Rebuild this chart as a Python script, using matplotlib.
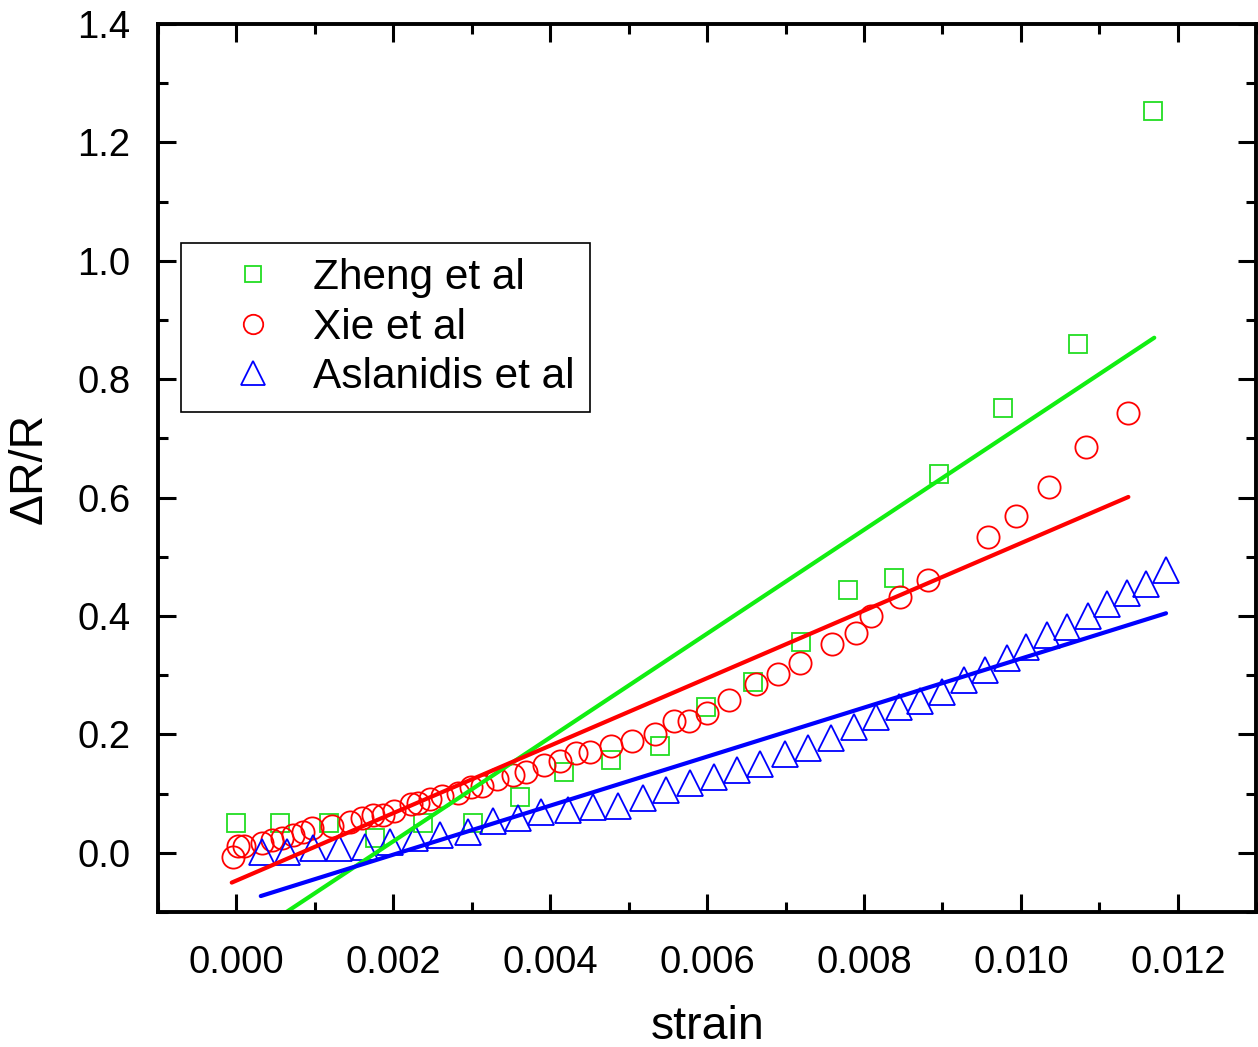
import matplotlib.pyplot as plt
import numpy as np
from matplotlib.ticker import MultipleLocator, FormatStrFormatter

plt.rcParams['font.family'] = ['Liberation Sans', 'DejaVu Sans']

# Zheng et al
zheng_strain = [0.0, 0.00055, 0.00118, 0.00177, 0.00238, 0.00301, 0.00362, 0.00417,
                0.00478, 0.0054, 0.00599, 0.00659, 0.0072, 0.0078, 0.00838, 0.00896,
                0.00977, 0.01073, 0.01169]
zheng_dr = [0.051, 0.051, 0.051, 0.025, 0.051, 0.051, 0.095, 0.137,
            0.157, 0.181, 0.247, 0.289, 0.356, 0.444, 0.465, 0.640,
            0.752, 0.860, 1.253]

# Xie et al
xie_strain = [-0.00005, 0.00002, 0.0001, 0.00033, 0.00045, 0.00058, 0.00072, 0.00085,
              0.00096, 0.00122, 0.00145, 0.0016, 0.00174, 0.00187, 0.00201, 0.00222,
              0.00232, 0.00247, 0.00262, 0.00283, 0.00299, 0.00313, 0.00332, 0.00353,
              0.00369, 0.00392, 0.00412, 0.00433, 0.00451, 0.00478, 0.00504, 0.00533,
              0.00558, 0.00577, 0.0060, 0.00628, 0.00662, 0.0069, 0.00719, 0.00759,
              0.0079, 0.00809, 0.00846, 0.00881, 0.00958, 0.00994, 0.01036, 0.01083,
              0.01136]
xie_dr = [-0.007, 0.012, 0.012, 0.017, 0.022, 0.025, 0.030, 0.035,
          0.041, 0.046, 0.052, 0.059, 0.063, 0.064, 0.071, 0.083,
          0.084, 0.091, 0.096, 0.101, 0.111, 0.113, 0.125, 0.132,
          0.137, 0.149, 0.155, 0.169, 0.171, 0.181, 0.189, 0.201,
          0.223, 0.223, 0.236, 0.258, 0.285, 0.302, 0.321, 0.353,
          0.372, 0.400, 0.432, 0.461, 0.534, 0.569, 0.618, 0.686,
          0.743]

# Aslanidis et al
asl_strain = [0.00032, 0.00065, 0.00097, 0.00131, 0.00164, 0.00196, 0.00228, 0.0026,
              0.00295, 0.00327, 0.00359, 0.00388, 0.00423, 0.00454, 0.00486, 0.00518,
              0.00547, 0.00578, 0.00609, 0.00638, 0.00668, 0.00699, 0.00728, 0.00758,
              0.00787, 0.00815, 0.00844, 0.00872, 0.0090, 0.00927, 0.00954, 0.00982,
              0.01006, 0.01033, 0.01059, 0.01085, 0.0111, 0.01135, 0.0116, 0.01185]
asl_dr = [0.002, 0.002, 0.008, 0.008, 0.010, 0.019, 0.025, 0.030,
          0.035, 0.054, 0.059, 0.068, 0.073, 0.078, 0.079, 0.093,
          0.106, 0.118, 0.128, 0.140, 0.150, 0.166, 0.177, 0.194,
          0.213, 0.230, 0.247, 0.257, 0.272, 0.292, 0.309, 0.329,
          0.348, 0.368, 0.382, 0.400, 0.421, 0.439, 0.454, 0.478]

# linear fits: (slope, intercept, x start, x end)
zheng_fit = (87.7, -0.156, 0.0, 0.0117)
xie_fit = (57.0, -0.047, -0.00006, 0.01137)
asl_fit = (41.4, -0.086, 0.00031, 0.01185)

fig = plt.figure(figsize=(12.58, 10.47), dpi=100)
ax = fig.add_axes([0.1256, 0.129, 0.873, 0.848])

ax.plot(zheng_strain, zheng_dr, 's', ms=13, mfc='none', mec='#22dd22', mew=1.3,
        label='Zheng et al')
ax.plot(xie_strain, xie_dr, 'o', ms=16, mfc='none', mec='red', mew=1.3,
        label='Xie et al')
ax.plot(asl_strain, asl_dr, '^', ms=19, mfc='none', mec='blue', mew=1.3,
        label='Aslanidis et al')

for (k, b, x0, x1), c in [(zheng_fit, '#11ee11'), (xie_fit, 'red'), (asl_fit, 'blue')]:
    xs = np.array([x0, x1])
    ax.plot(xs, k * xs + b, '-', color=c, lw=3, solid_capstyle='round')

ax.set_xlim(-0.001, 0.013)
ax.set_ylim(-0.1, 1.4)
ax.xaxis.set_major_locator(MultipleLocator(0.002))
ax.xaxis.set_minor_locator(MultipleLocator(0.001))
ax.yaxis.set_major_locator(MultipleLocator(0.2))
ax.yaxis.set_minor_locator(MultipleLocator(0.1))
ax.xaxis.set_major_formatter(FormatStrFormatter('%.3f'))
ax.yaxis.set_major_formatter(FormatStrFormatter('%.1f'))

ax.tick_params(which='both', direction='in', top=True, right=True, width=2.2,
               labelsize=27.5)
ax.tick_params(axis='x', pad=24)
ax.tick_params(axis='y', pad=20)
ax.tick_params(which='major', length=13)
ax.tick_params(which='minor', length=7)
for s in ax.spines.values():
    s.set_linewidth(2.8)

ax.set_xlabel('strain', fontsize=33.5, labelpad=17)
ax.set_ylabel('ΔR/R', fontsize=33.5, labelpad=18)

leg = ax.legend(loc='upper left', bbox_to_anchor=(0.021, 0.753), borderaxespad=0,
                fontsize=30.5, fancybox=False, framealpha=1, edgecolor='black',
                handletextpad=0.07, borderpad=0.35, labelspacing=0.22, handlelength=2.7,
                numpoints=1)
leg.get_frame().set_linewidth(1.2)
for h, sz in zip(leg.legend_handles, [12, 14, 17]):
    h.set_markersize(sz)

fig.savefig('out.png', dpi=100)
